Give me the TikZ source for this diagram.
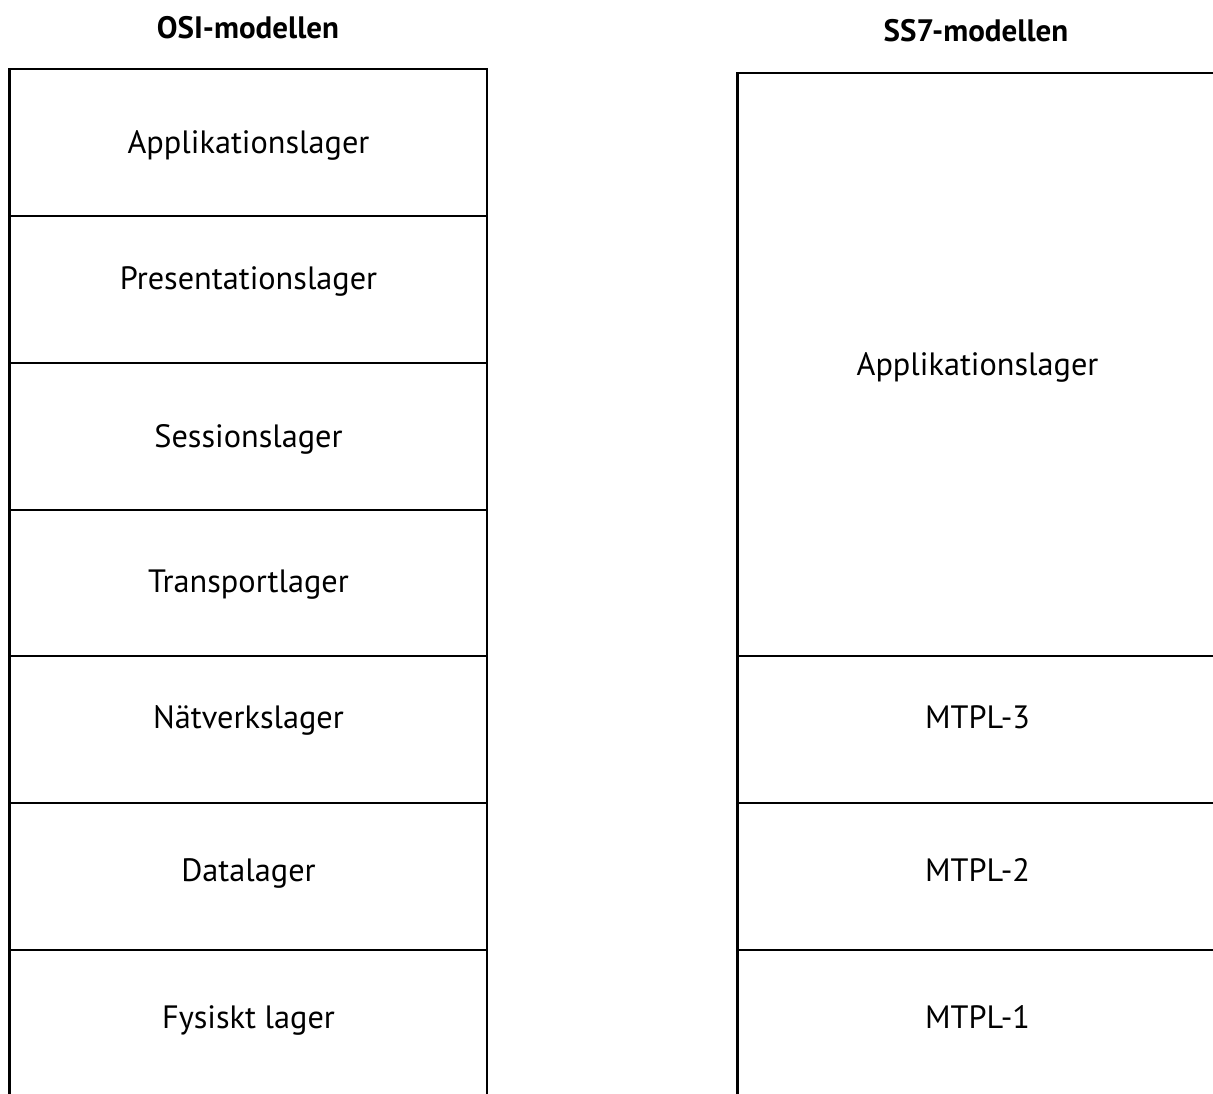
\documentclass[tikz,border=0pt]{standalone}
\usepackage{fontspec}
\setmainfont{PT Sans}
\begin{document}
\begin{tikzpicture}[x=1pt,y=-1pt,
  frame/.style={line width=2.4pt,draw=black},
  layer/.style={anchor=base,inner sep=0pt,font=\fontsize{32.3}{38}\selectfont},
  heading/.style={anchor=base,inner sep=0pt,font=\bfseries\fontsize{31}{36}\selectfont}]
\useasboundingbox (0,0) rectangle (1213,1093);
\clip (0,0) rectangle (1213,1093);

% OSI column: seven stacked layers, open at the bottom edge
\draw[frame] (9.5,1110) -- (9.5,69) -- (487,69) -- (487,1110);
\foreach \yy in {216,363,510,656,803,950}
  \draw[frame] (9.5,\yy) -- (487,\yy);

% SS7 column: application part plus three MTP levels
\draw[frame] (737.5,1110) -- (737.5,73) -- (1217.5,73);
\foreach \yy in {656,803,950}
  \draw[frame] (737.5,\yy) -- (1217.5,\yy);

% headings
\node[heading] (osi) at (248,38.5) {OSI-modellen};
\node[heading] (ss7) at (976,41.5) {SS7-modellen};

% OSI layer names
\node[layer] (o7) at (248.5,153) {Applikationslager};
\node[layer] (o6) at (248.5,289) {Presentationslager};
\node[layer] (o5) at (248.5,447) {Sessionslager};
\node[layer] (o4) at (248.5,592) {Transportlager};
\node[layer] (o3) at (248.5,728) {Nätverkslager};
\node[layer] (o2) at (248.5,881.5) {Datalager};
\node[layer] (o1) at (248.5,1028.5) {Fysiskt lager};

% SS7 layer names
\node[layer] (s4) at (977.5,375) {Applikationslager};
\node[layer] (s3) at (977.5,728) {MTPL-3};
\node[layer] (s2) at (977.5,881) {MTPL-2};
\node[layer] (s1) at (977.5,1028.5) {MTPL-1};
\end{tikzpicture}
\end{document}
